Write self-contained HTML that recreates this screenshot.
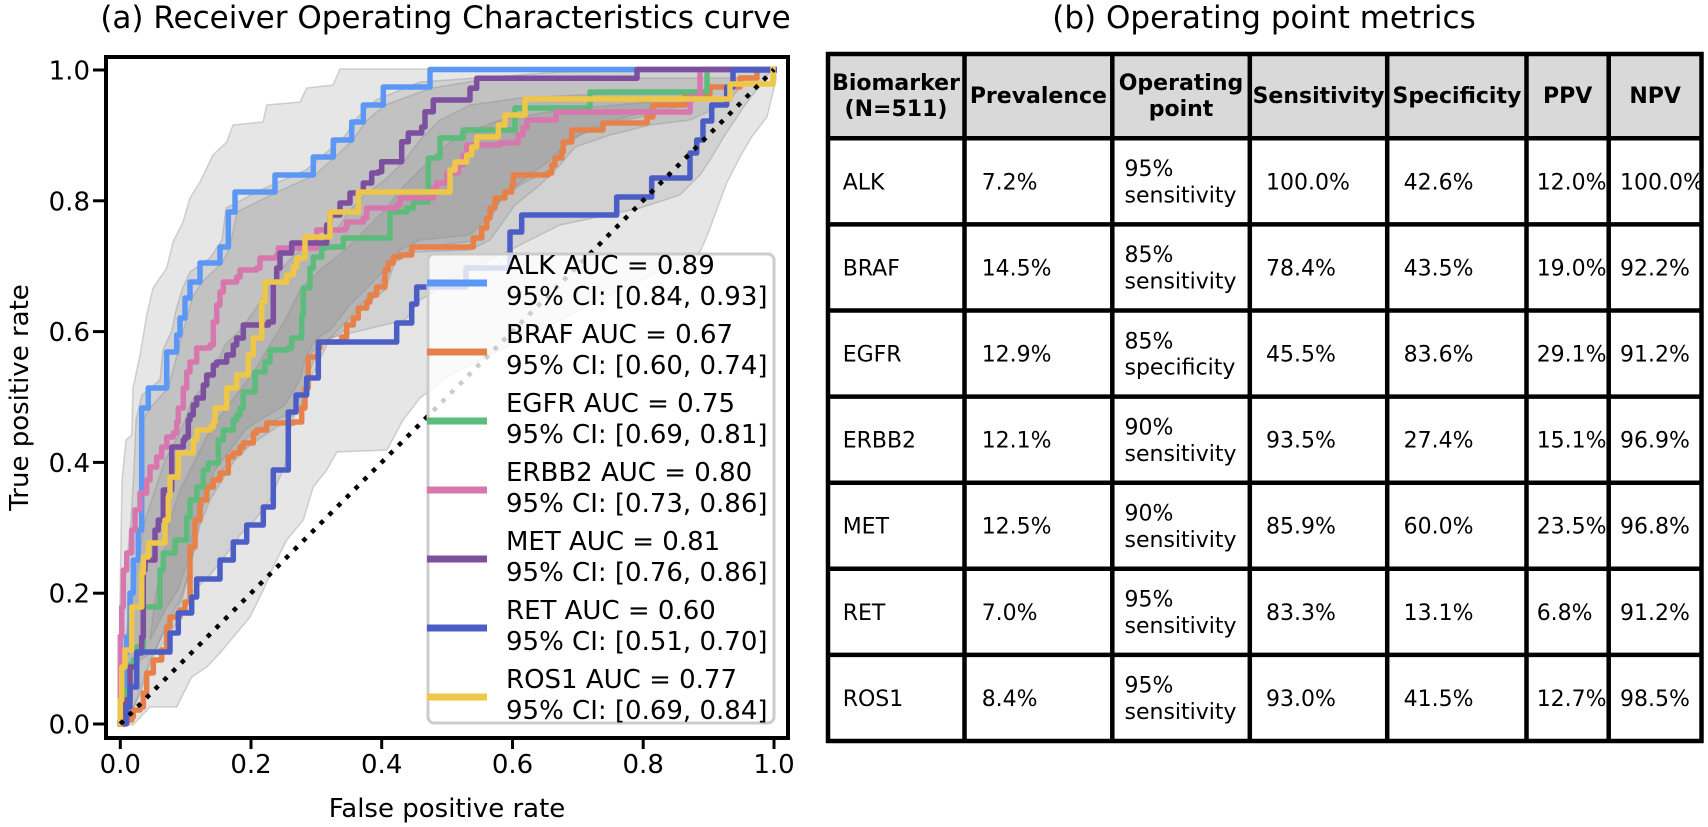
<!DOCTYPE html>
<html><head><meta charset="utf-8"><style>
html,body{margin:0;padding:0;background:#fff;}
svg{display:block;font-family:"DejaVu Sans","Liberation Sans",sans-serif;}
</style></head><body>
<svg width="1708" height="827" viewBox="0 0 1708 827" xmlns="http://www.w3.org/2000/svg">
<rect x="0" y="0" width="1708" height="827" fill="#fff"/>
<!-- Titles -->
<text x="445.5" y="28" font-size="31" text-anchor="middle" fill="#000">(a) Receiver Operating Characteristics curve</text>
<text x="1264" y="28" font-size="31" text-anchor="middle" fill="#000">(b) Operating point metrics</text>

<!-- CI bands -->
<g fill="#808080" fill-opacity="0.2" stroke="#8a8a8a" stroke-opacity="0.35" stroke-width="1.5" stroke-linejoin="round">
<polygon points="120,724 120,600 122,480 126,440 131.7,435 133,388 140,355 146.7,315 153,288 166.7,268 173,242 183,222 190,198 200,182 213,155 226.7,142 233,125 263,122 266.7,105 300,102 306.7,88 333,85 340,69 776,69 776,80 767,117 751.7,137 740,157 726.7,183 716.7,210 706.7,237 700,252 600,300 520,340 450,375 420,398 403,420 387,450 337,452 326.7,470 313.3,487 303.3,520 286.7,540 273.3,567 263.3,590 250,617 236.7,633 220,653 206.7,667 191.7,677 176.7,707 150,707 133,725"/>
<polygon points="120,724 121,650 123,600 127,560 131,520 134,470 136,420 142,395 160,380 163,350 172,330 176,310 182,290 190,272 210,258 222,240 226,208 265,188 306,170 327,152 345,136 357,118 376,100 420,82 560,72 760,70 770,72 745,105 725,135 710,160 700,175 680,195 640,208 560,225 520,245 470,270 420,300 405,320 330,338 315,370 300,395 290,430 285,465 270,500 255,520 240,535 225,556 210,575 193,592 185,610 172,630 160,648 140,660 132,690 125,724"/>
<polygon points="120,724 123,697 126,640 131,593 136,560 141,530 143,420 150,408 168,388 178,352 182,335 187,318 192,298 202,282 222,263 230,247 237,212 277,192 315,175 335,157 353,140 365,122 385,105 432,88 480,80 640,78 735,78 745,80 730,100 712,110 690,120 650,125 610,135 575,147 560,165 540,185 515,205 490,240 470,250 415,252 395,262 385,290 365,305 345,330 320,345 310,370 300,410 280,425 250,445 235,460 222,480 210,500 200,525 192,560 182,600 172,620 160,640 150,660 140,690 128,724"/>
<polygon points="122,724 124,680 128,640 132,600 138,560 145,520 155,490 165,460 176,440 185,420 192,400 205,385 215,368 225,345 240,330 255,310 270,285 285,265 300,250 325,240 340,225 350,210 365,195 385,180 405,160 420,140 440,120 470,105 520,98 620,93 700,90 700,100 650,115 610,123 580,135 560,150 550,170 520,185 500,200 490,220 480,240 440,245 410,250 390,262 380,285 365,300 350,318 330,338 312,352 305,385 300,410 270,422 245,440 230,460 215,480 205,500 197,530 190,570 180,600 168,620 160,640 150,665 140,695 130,715 125,724"/>
<polygon points="150,640 155,600 162,560 170,520 180,490 195,460 210,430 225,410 240,390 255,370 270,345 285,320 300,290 320,270 345,250 365,230 385,210 400,190 420,170 440,150 460,135 500,120 560,110 650,102 650,110 600,125 570,140 550,160 530,175 505,195 490,215 470,235 420,240 400,250 385,270 370,285 350,305 330,330 315,340 305,360 300,380 285,405 260,420 245,430 230,450 215,470 205,495 195,520 188,560 178,590 165,610 155,630"/>
</g>

<!-- ROC curves -->
<g fill="none" stroke-width="5.5" stroke-linejoin="round" stroke-linecap="square">
<polyline stroke="#5b97f5" points="120.3,724 123,724 123,697 124.5,697 124.5,653 126.5,653 126.5,637 130,637 130,593 133.3,593 133.3,560 138.3,560 138.3,530 141.7,530 141.7,408 148.3,408 148.3,388 166.7,388 166.7,352 176.7,352 176.7,335 180,335 180,318 185,318 185,298 190,298 190,282 200,282 200,263 220,263 220,247 228.3,247 228.3,212 235,212 235,192 275,192 275,175 313.3,175 313.3,157 333.3,157 333.3,140 351.7,140 351.7,122 363.3,122 363.3,105 383.3,105 383.3,87 430,87 430,69.5 774,69.5"/>
<polyline stroke="#e6814a" points="120.3,724 126.7,724 126.7,720 131.7,720 131.7,717 133.3,717 133.3,710 140,710 140,707 143.3,707 143.3,693 146.7,693 146.7,673 153.3,673 153.3,660 161.7,660 161.7,650 166.7,650 166.7,627 170,627 170,617 180,617 180,610 185,610 185,602 190,602 190,547 195,547 195,520 200,520 200,500 206.7,500 206.7,487 213.3,487 213.3,480 220,480 220,473 228.3,473 228.3,457 233.3,457 233.3,453 240,453 240,447 243.3,447 243.3,443 253.3,443 253.3,433 256.7,433 256.7,430 266.7,430 266.7,423 293.3,423 293.3,422 301.7,422 301.7,408 305,408 305,388 308.3,388 308.3,357 318.3,357 318.3,348 320,348 320,342 341.7,342 341.7,337 346.7,337 346.7,325 353.3,325 353.3,318 358.3,318 358.3,308 366.7,308 366.7,302 370,302 370,295 376.7,295 376.7,287 385,287 385,270 388.3,270 388.3,263 393.3,263 393.3,257 400,257 400,255 411.7,255 411.7,247 473.3,247 473.3,238 481.7,238 481.7,228 486.7,228 486.7,218 490,218 490,208 495,208 495,198 505,198 505,192 511.7,192 511.7,185 513.3,185 513.3,175 548.3,175 548.3,173 551.7,173 551.7,165 555,165 555,158 561.7,158 561.7,152 563.3,152 563.3,142 571.7,142 571.7,130 603,130 603,123 647,123 647,117 653,117 653,105 685,105 685,94 710,94 710,87 740,87 740,78 757,78 757,69.5 774,69.5"/>
<polyline stroke="#5dbb7b" points="120.3,724 120.3,705 125,705 125,690 130,690 130,665 133.3,665 133.3,660 136.7,660 136.7,647 143.3,647 143.3,607 160,607 160,570 163.3,570 163.3,553 175,553 175,540 186.7,540 186.7,517 190,517 190,500 196.7,500 196.7,487 203.3,487 203.3,470 208.3,470 208.3,463 218.3,463 218.3,440 223.3,440 223.3,430 233.3,430 233.3,420 236.7,420 236.7,415 240,415 240,408 243.3,408 243.3,392 255,392 255,372 265,372 265,362 270,362 270,350 288.3,350 288.3,348 291.7,348 291.7,338 301.7,338 301.7,315 303.3,315 303.3,288 310,288 310,268 313.3,268 313.3,257 321.7,257 321.7,248 326.7,248 326.7,247 343.3,247 343.3,238 390,238 390,212 406.7,212 406.7,208 413.3,208 413.3,202 428.3,202 428.3,158 436.7,158 436.7,157 440,157 440,138 463,138 463,130 515,130 515,108 590,108 590,92 707,92 707,69.5 774,69.5"/>
<polyline stroke="#d678ad" points="120.3,724 120.3,636 121.7,636 121.7,607 123.3,607 123.3,570 126.7,570 126.7,553 131.7,553 131.7,530 135,530 135,510 140,510 140,493 146.7,493 146.7,480 150,480 150,467 156.7,467 156.7,457 161.7,457 161.7,447 166.7,447 166.7,437 173.3,437 173.3,433 176.7,433 176.7,422 178.3,422 178.3,408 183.3,408 183.3,388 186.7,388 186.7,372 190,372 190,362 196.7,362 196.7,348 210,348 210,345 213.3,345 213.3,322 216.7,322 216.7,305 220,305 220,292 223.3,292 223.3,282 236.7,282 236.7,277 240,277 240,270 256.7,270 256.7,268 260,268 260,258 276.7,258 276.7,255 278.3,255 278.3,248 316.7,248 316.7,230 345,230 345,228 346.7,228 346.7,222 363.3,222 363.3,218 366.7,218 366.7,208 396.7,208 396.7,205 400,205 400,198 433.3,198 433.3,188 436.7,188 436.7,183 446.7,183 446.7,173 458.3,173 458.3,165 463.3,165 463.3,155 466.7,155 466.7,145 500,145 500,143 518,143 518,135 523,135 523,128 527,128 527,120 556,120 556,112 690,112 690,97 700,97 700,69.5 774,69.5"/>
<polyline stroke="#7d4f9f" points="120.3,724 125,724 125,700 130,700 130,667 136.7,667 136.7,653 141.7,653 141.7,637 143.3,637 143.3,570 145,570 145,560 155,560 155,530 158.3,530 158.3,520 163.3,520 163.3,490 171.7,490 171.7,447 183.3,447 183.3,440 185,440 185,437 188.3,437 188.3,420 190,420 190,415 193.3,415 193.3,405 196.7,405 196.7,398 203.3,398 203.3,385 206.7,385 206.7,375 213.3,375 213.3,365 216.7,365 216.7,362 226.7,362 226.7,355 233.3,355 233.3,345 236.7,345 236.7,338 243.3,338 243.3,325 268.3,325 268.3,322 273.3,322 273.3,282 276.7,282 276.7,268 280,268 280,253 291.7,253 291.7,243 326.7,243 326.7,225 330,225 330,215 340,215 340,203 350,203 350,193 358.3,193 363.3,191.7 363.3,183 371.7,183 371.7,173 378.3,173 378.3,171.7 381.7,171.7 381.7,161.7 401.7,161.7 401.7,141.7 408.3,141.7 408.3,133 421.7,133 421.7,127 425,127 425,111.7 433.3,111.7 433.3,100 470,100 470,88.3 476.7,88.3 476.7,78.3 637,78.3 637,69.5 774,69.5"/>
<polyline stroke="#4c5ec6" points="120,723 126.7,723 126.7,707 130,707 130,687 136.7,687 136.7,652 170,652 170,633 178.3,633 178.3,613 191.7,613 191.7,597 196.7,597 196.7,579 220,579 220,560 233.3,560 233.3,542 246.7,542 246.7,525 263.3,525 263.3,507 273.3,507 273.3,470 288.3,470 288.3,412 296,412 296,395 306.7,395 306.7,378 318.3,378 318.3,342 396.7,342 396.7,323 411.7,323 411.7,304 416.7,304 416.7,287 466,287 466,268 510,268 510,232 521.7,232 521.7,215 616.7,215 616.7,197 651.7,197 651.7,178 690,178 690,153 696.7,153 696.7,140 703,140 703,121 711.7,121 711.7,105 726.7,105 726.7,87 733,87 733,70 774,70"/>
<polyline stroke="#efc748" points="120.3,724 120.3,700 121.7,700 121.7,667 125,667 125,650 131.7,650 131.7,607 141.7,607 141.7,573 143.3,573 143.3,557 148.3,557 148.3,543 165,543 165,520 168.3,520 168.3,497 170,497 170,477 178.3,477 178.3,453 193.3,453 193.3,440 196.7,440 196.7,430 210,430 210,427 213.3,427 213.3,422 215,422 215,408 226.7,408 226.7,388 236.7,388 236.7,375 248.3,375 248.3,355 253.3,355 253.3,338 261.7,338 261.7,302 265,302 265,282 286.7,282 286.7,275 293.3,275 293.3,267 296.7,267 296.7,258 305,258 305,237 330,237 330,212 358.3,212 358.3,192 450,192 450,170 455,170 455,162 466.7,162 466.7,155 471.7,155 471.7,147 476.7,147 476.7,137 498.3,137 498.3,125 505,125 505,115 525,115 525,99 730,99 730,84 773,84 773,69.5"/>
</g>
<!-- diagonal -->
<line x1="120.3" y1="724" x2="774" y2="69.5" stroke="#000" stroke-width="4.5" stroke-dasharray="4.5 7.8"/>

<!-- Legend -->
<rect x="428" y="254" width="346" height="469" rx="6" ry="6" fill="#fff" fill-opacity="0.8" stroke="#cccccc" stroke-width="3"/>
<g stroke-width="7" fill="none">
<line x1="427" y1="283" x2="487" y2="283" stroke="#5b97f5"/>
<line x1="427" y1="352" x2="487" y2="352" stroke="#e6814a"/>
<line x1="427" y1="421" x2="487" y2="421" stroke="#5dbb7b"/>
<line x1="427" y1="490" x2="487" y2="490" stroke="#d678ad"/>
<line x1="427" y1="559" x2="487" y2="559" stroke="#7d4f9f"/>
<line x1="427" y1="628" x2="487" y2="628" stroke="#4c5ec6"/>
<line x1="427" y1="697" x2="487" y2="697" stroke="#efc748"/>
</g>
<g font-size="26" fill="#000">
<text x="506" y="274">ALK AUC = 0.89</text><text x="506" y="305">95% CI: [0.84, 0.93]</text>
<text x="506" y="343">BRAF AUC = 0.67</text><text x="506" y="374">95% CI: [0.60, 0.74]</text>
<text x="506" y="412">EGFR AUC = 0.75</text><text x="506" y="443">95% CI: [0.69, 0.81]</text>
<text x="506" y="481">ERBB2 AUC = 0.80</text><text x="506" y="512">95% CI: [0.73, 0.86]</text>
<text x="506" y="550">MET AUC = 0.81</text><text x="506" y="581">95% CI: [0.76, 0.86]</text>
<text x="506" y="619">RET AUC = 0.60</text><text x="506" y="650">95% CI: [0.51, 0.70]</text>
<text x="506" y="688">ROS1 AUC = 0.77</text><text x="506" y="719">95% CI: [0.69, 0.84]</text>
</g>

<!-- Axes frame -->
<rect x="106" y="57" width="682" height="681" fill="none" stroke="#000" stroke-width="4"/>
<g stroke="#000" stroke-width="3">
<line x1="93" y1="70" x2="106" y2="70"/>
<line x1="93" y1="200.8" x2="106" y2="200.8"/>
<line x1="93" y1="331.6" x2="106" y2="331.6"/>
<line x1="93" y1="462.4" x2="106" y2="462.4"/>
<line x1="93" y1="593.2" x2="106" y2="593.2"/>
<line x1="93" y1="724" x2="106" y2="724"/>
<line x1="120.3" y1="738" x2="120.3" y2="749"/>
<line x1="251" y1="738" x2="251" y2="749"/>
<line x1="381.7" y1="738" x2="381.7" y2="749"/>
<line x1="512.5" y1="738" x2="512.5" y2="749"/>
<line x1="643.2" y1="738" x2="643.2" y2="749"/>
<line x1="774" y1="738" x2="774" y2="749"/>
</g>
<g font-size="26" fill="#000" text-anchor="end">
<text x="90" y="79.5">1.0</text>
<text x="90" y="210.3">0.8</text>
<text x="90" y="341.1">0.6</text>
<text x="90" y="471.9">0.4</text>
<text x="90" y="602.7">0.2</text>
<text x="90" y="733.5">0.0</text>
</g>
<g font-size="26" fill="#000" text-anchor="middle">
<text x="120.3" y="773">0.0</text>
<text x="251" y="773">0.2</text>
<text x="381.7" y="773">0.4</text>
<text x="512.5" y="773">0.6</text>
<text x="643.2" y="773">0.8</text>
<text x="774" y="773">1.0</text>
<text x="447" y="817">False positive rate</text>
<text transform="translate(28,397.5) rotate(-90)">True positive rate</text>
</g>

<!-- Table -->
<rect x="828" y="54" width="873.5" height="84.3" fill="#d9d9d9"/>
<g font-size="22" font-weight="bold" fill="#000" text-anchor="middle">
<text x="896" y="89.8">Biomarker</text><text x="896" y="116.2">(N=511)</text>
<text x="1038.4" y="103">Prevalence</text>
<text x="1181" y="89.8">Operating</text><text x="1181" y="116.2">point</text>
<text x="1318.5" y="103">Sensitivity</text>
<text x="1456.9" y="103">Specificity</text>
<text x="1567.6" y="103">PPV</text>
<text x="1655.1" y="103">NPV</text>
</g>
<g font-size="22" fill="#000">
<!-- row centers: 181.3 267.4 353.5 439.6 525.7 611.8 697.9 -->
<text x="842.7" y="189.3">ALK</text><text x="981.7" y="189.3">7.2%</text>
<text x="1124.5" y="176.1">95%</text><text x="1124.5" y="202.5">sensitivity</text>
<text x="1266" y="189.3">100.0%</text><text x="1403.6" y="189.3">42.6%</text><text x="1536.7" y="189.3">12.0%</text><text x="1620" y="189.3">100.0%</text>

<text x="842.7" y="275.4">BRAF</text><text x="981.7" y="275.4">14.5%</text>
<text x="1124.5" y="262.2">85%</text><text x="1124.5" y="288.6">sensitivity</text>
<text x="1266" y="275.4">78.4%</text><text x="1403.6" y="275.4">43.5%</text><text x="1536.7" y="275.4">19.0%</text><text x="1620" y="275.4">92.2%</text>

<text x="842.7" y="361.5">EGFR</text><text x="981.7" y="361.5">12.9%</text>
<text x="1124.5" y="348.3">85%</text><text x="1124.5" y="374.7">specificity</text>
<text x="1266" y="361.5">45.5%</text><text x="1403.6" y="361.5">83.6%</text><text x="1536.7" y="361.5">29.1%</text><text x="1620" y="361.5">91.2%</text>

<text x="842.7" y="447.6">ERBB2</text><text x="981.7" y="447.6">12.1%</text>
<text x="1124.5" y="434.4">90%</text><text x="1124.5" y="460.8">sensitivity</text>
<text x="1266" y="447.6">93.5%</text><text x="1403.6" y="447.6">27.4%</text><text x="1536.7" y="447.6">15.1%</text><text x="1620" y="447.6">96.9%</text>

<text x="842.7" y="533.7">MET</text><text x="981.7" y="533.7">12.5%</text>
<text x="1124.5" y="520.5">90%</text><text x="1124.5" y="546.9">sensitivity</text>
<text x="1266" y="533.7">85.9%</text><text x="1403.6" y="533.7">60.0%</text><text x="1536.7" y="533.7">23.5%</text><text x="1620" y="533.7">96.8%</text>

<text x="842.7" y="619.8">RET</text><text x="981.7" y="619.8">7.0%</text>
<text x="1124.5" y="606.6">95%</text><text x="1124.5" y="633">sensitivity</text>
<text x="1266" y="619.8">83.3%</text><text x="1403.6" y="619.8">13.1%</text><text x="1536.7" y="619.8">6.8%</text><text x="1620" y="619.8">91.2%</text>

<text x="842.7" y="705.9">ROS1</text><text x="981.7" y="705.9">8.4%</text>
<text x="1124.5" y="692.7">95%</text><text x="1124.5" y="719.1">sensitivity</text>
<text x="1266" y="705.9">93.0%</text><text x="1403.6" y="705.9">41.5%</text><text x="1536.7" y="705.9">12.7%</text><text x="1620" y="705.9">98.5%</text>
</g>
<g stroke="#000" stroke-width="4.5" fill="none">
<line x1="826" y1="54" x2="1703.5" y2="54"/>
<line x1="826" y1="138.3" x2="1703.5" y2="138.3"/>
<line x1="826" y1="224.4" x2="1703.5" y2="224.4"/>
<line x1="826" y1="310.5" x2="1703.5" y2="310.5"/>
<line x1="826" y1="396.6" x2="1703.5" y2="396.6"/>
<line x1="826" y1="482.7" x2="1703.5" y2="482.7"/>
<line x1="826" y1="568.8" x2="1703.5" y2="568.8"/>
<line x1="826" y1="654.9" x2="1703.5" y2="654.9"/>
<line x1="826" y1="741" x2="1703.5" y2="741"/>
<line x1="828" y1="52" x2="828" y2="743"/>
<line x1="964.5" y1="52" x2="964.5" y2="743"/>
<line x1="1112.3" y1="52" x2="1112.3" y2="743"/>
<line x1="1249.8" y1="52" x2="1249.8" y2="743"/>
<line x1="1387.2" y1="52" x2="1387.2" y2="743"/>
<line x1="1526.5" y1="52" x2="1526.5" y2="743"/>
<line x1="1608.7" y1="52" x2="1608.7" y2="743"/>
<line x1="1701.5" y1="52" x2="1701.5" y2="743"/>
</g>
</svg>
</body></html>
